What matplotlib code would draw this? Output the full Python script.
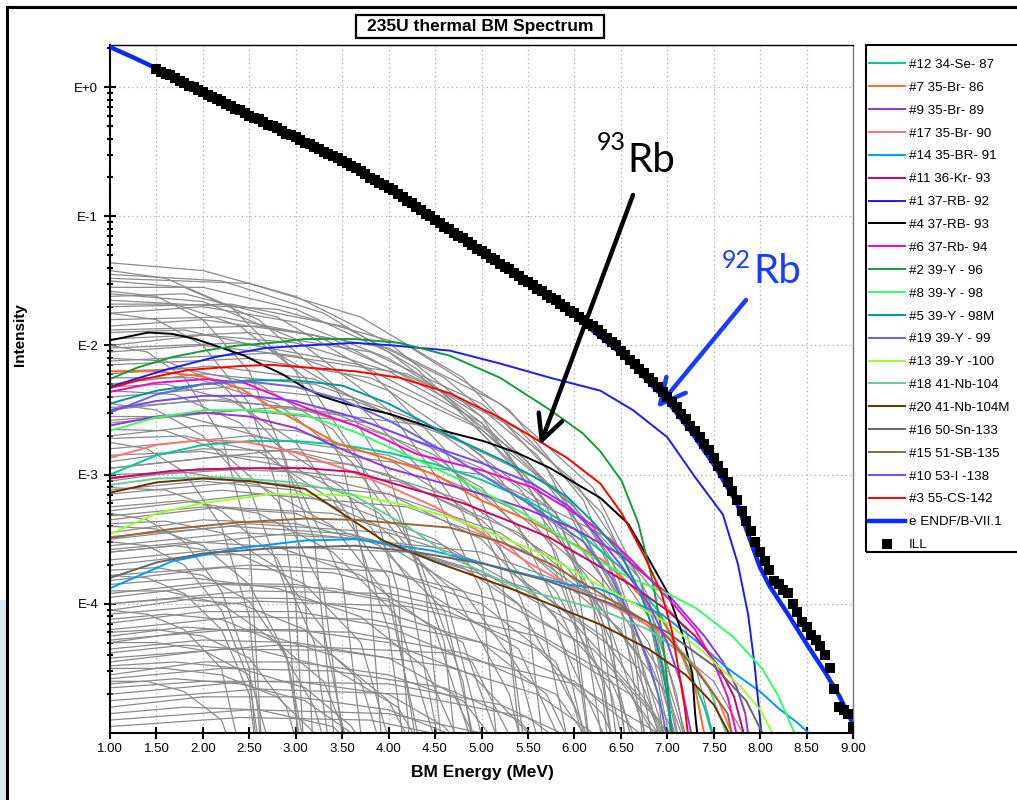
import numpy as np
import matplotlib
matplotlib.use("Agg")
import matplotlib.pyplot as plt
from matplotlib.patches import Rectangle
from matplotlib.lines import Line2D

plt.rcParams['font.family'] = ['Liberation Sans', 'DejaVu Sans']

W, H = 1017, 800

# ILL measured spectrum, log10(intensity) every 0.05 MeV from 1.50 to 9.00
ill_log = [0.14, 0.12, 0.10, 0.09, 0.07, 0.05, 0.03, 0.01, 0.00, -0.02, -0.04,
           -0.06, -0.08, -0.09, -0.11, -0.13, -0.15, -0.17, -0.18, -0.20, -0.22,
           -0.24, -0.25, -0.27, -0.29, -0.30, -0.32, -0.34, -0.36, -0.37, -0.39,
           -0.41, -0.43, -0.44, -0.46, -0.48, -0.50, -0.52, -0.53, -0.55, -0.57,
           -0.59, -0.61, -0.63, -0.65, -0.67, -0.70, -0.72, -0.74, -0.76, -0.78,
           -0.80, -0.83, -0.85, -0.88, -0.90, -0.93, -0.95, -0.98, -1.00, -1.03,
           -1.05, -1.08, -1.10, -1.13, -1.15, -1.17, -1.20, -1.22, -1.25, -1.27,
           -1.29, -1.32, -1.34, -1.37, -1.39, -1.41, -1.44, -1.46, -1.49, -1.51,
           -1.53, -1.56, -1.58, -1.61, -1.63, -1.65, -1.68, -1.70, -1.73, -1.75,
           -1.78, -1.80, -1.83, -1.85, -1.88, -1.91, -1.94, -1.97, -2.00, -2.04,
           -2.07, -2.11, -2.14, -2.18, -2.21, -2.25, -2.28, -2.32, -2.36, -2.40,
           -2.44, -2.48, -2.53, -2.57, -2.62, -2.66, -2.71, -2.76, -2.81, -2.87,
           -2.93, -2.99, -3.06, -3.13, -3.20, -3.28, -3.36, -3.44, -3.52, -3.60,
           -3.67, -3.74, -3.82, -3.85, -3.89, -3.92, -4.00, -4.06, -4.14, -4.18,
           -4.24, -4.28, -4.33, -4.40, -4.50, -4.66, -4.80, -4.82, -4.85, -4.95]
ill_x = np.round(np.arange(1.5, 9.001, 0.05), 2)

# ENDF/B-VII.1 summation
endf_x = [1.0, 1.25, 1.5, 2.0, 2.5, 3.0, 3.5, 4.0, 4.5, 5.0, 5.5, 6.0, 6.5, 7.0, 7.25,
          7.5, 7.75, 8.0, 8.1, 8.3, 8.5, 8.7, 8.85, 9.0]
endf_log = [0.31, 0.23, 0.145, -0.04, -0.22, -0.39, -0.57, -0.78, -1.03, -1.28, -1.52,
            -1.77, -2.06, -2.43, -2.66, -2.92, -3.22, -3.72, -3.86, -4.08, -4.31, -4.53,
            -4.71, -4.93]

# individual fission products (legend order): label, colour, energies, log10 intensity
labels = ['#12 34-Se- 87', '#7 35-Br- 86', '#9 35-Br- 89', '#17 35-Br- 90', '#14 35-BR- 91',
          '#11 36-Kr- 93', '#1 37-RB- 92', '#4 37-RB- 93', '#6 37-Rb- 94', '#2 39-Y - 96',
          '#8 39-Y - 98', '#5 39-Y - 98M', '#19 39-Y - 99', '#13 39-Y -100', '#18 41-Nb-104',
          '#20 41-Nb-104M', '#16 50-Sn-133', '#15 51-SB-135', '#10 53-I -138', '#3 55-CS-142']
colors = ['#00c896', '#ff6a28', '#9933cc', '#ff7373', '#0099ff',
          '#cc0066', '#1a1aff', '#000000', '#ff00cc', '#169b3c',
          '#33ff66', '#009999', '#6666dd', '#99ff33', '#66cc99',
          '#663300', '#666666', '#996633', '#7744ff', '#ff0000']
curve_x = [
    [1.0, 1.5, 2.0, 2.5, 3.0, 3.5, 4.0, 4.5, 5.0, 5.5, 6.0, 6.5, 6.9, 7.2, 7.4, 7.5],
    [1.0, 1.5, 2.0, 2.4, 2.7, 3.0, 3.45, 4.0, 4.5, 5.0, 5.5, 6.0, 6.3, 6.6, 6.95, 7.15, 7.3, 7.41],
    [1.0, 1.5, 2.0, 2.5, 3.0, 3.45, 4.0, 4.5, 5.0, 5.5, 6.0, 6.5, 7.0, 7.4, 7.6, 7.75, 7.84, 7.88],
    [1.0, 1.5, 2.0, 2.5, 3.0, 3.5, 4.0, 4.5, 5.0, 5.5, 6.0, 6.5, 7.0, 7.3, 7.55, 7.72],
    [1.0, 1.67, 2.38, 3.1, 3.64, 4.48, 5.2, 5.92, 6.25, 6.94, 7.3, 7.65, 8.0, 8.2, 8.4, 8.6],
    [1.0, 1.67, 2.38, 3.1, 3.64, 4.2, 4.8, 5.3, 5.74, 6.22, 6.6, 7.0, 7.3, 7.55, 7.72, 7.84],
    [1.0, 1.59, 2.13, 2.67, 3.10, 3.64, 4.05, 4.66, 5.20, 5.74, 6.28, 6.63, 7.00, 7.30, 7.60,
     7.76, 7.87, 7.94, 8.02],
    [1.0, 1.41, 1.67, 1.92, 2.21, 2.45, 2.67, 2.85, 3.10, 3.31, 3.53, 4.01, 4.48, 5.02, 5.38,
     5.74, 6.09, 6.28, 6.58, 6.79, 7.01, 7.16, 7.27, 7.30, 7.33],
    [1.0, 1.48, 2.02, 2.45, 2.92, 3.28, 3.64, 4.3, 5.02, 5.55, 5.92, 6.25, 6.6, 7.0, 7.3, 7.5,
     7.65, 7.76],
    [1.0, 1.30, 1.67, 2.02, 2.38, 2.74, 3.10, 3.64, 4.12, 4.66, 5.20, 5.74, 6.09, 6.28, 6.51,
     6.69, 6.84, 6.94, 7.00, 7.04],
    [1.0, 1.48, 2.02, 2.56, 3.1, 3.64, 4.2, 4.8, 5.4, 5.9, 6.22, 6.6, 7.0, 7.3, 7.7, 8.02, 8.2, 8.4],
    [1.0, 1.5, 2.0, 2.5, 3.0, 3.5, 4.0, 4.66, 5.2, 5.55, 5.92, 6.22, 6.5, 6.7, 6.85, 6.95, 7.02, 7.06],
    [1.0, 1.5, 2.0, 2.5, 3.0, 3.5, 4.0, 4.5, 5.0, 5.5, 6.1, 6.4, 6.63, 6.8, 6.92, 7.0],
    [1.0, 1.5, 2.0, 2.74, 3.64, 4.2, 4.66, 5.2, 5.74, 6.22, 6.6, 7.0, 7.4, 7.8, 8.0, 8.17],
    [1.0, 1.5, 2.2, 3.0, 3.6, 4.2, 4.7, 5.4, 6.3, 6.8, 7.2, 7.45, 7.66],
    [1.0, 1.5, 2.0, 2.5, 3.1, 3.5, 3.94, 4.48, 5.38, 6.28, 6.8, 7.2, 7.5, 7.7],
    [1.0, 1.5, 2.0, 2.74, 3.64, 4.3, 5.02, 5.7, 6.4, 7.0, 7.5, 7.85, 8.06],
    [1.0, 1.67, 2.38, 3.1, 3.64, 4.66, 5.2, 5.74, 6.28, 6.94, 7.3, 7.65, 7.71],
    [1.0, 1.5, 2.0, 2.5, 3.0, 3.6, 4.3, 5.0, 5.55, 5.95, 6.22, 6.5, 6.8, 7.0, 7.15, 7.27],
    [1.0, 1.30, 1.84, 2.38, 2.74, 3.10, 3.64, 4.12, 4.66, 5.20, 5.55, 5.92, 6.28, 6.51, 6.76,
     6.94, 7.05, 7.12, 7.19, 7.23],
]
curve_log = [
    [-3.00, -2.85, -2.77, -2.74, -2.74, -2.77, -2.83, -2.92, -3.04, -3.20, -3.42, -3.72, -4.05,
     -4.45, -4.80, -5.05],
    [-2.20, -2.20, -2.24, -2.33, -2.46, -2.58, -2.76, -2.88, -3.00, -3.20, -3.35, -3.54, -3.66,
     -3.85, -4.13, -4.39, -4.65, -5.05],
    [-2.62, -2.55, -2.52, -2.55, -2.64, -2.79, -2.95, -3.05, -3.15, -3.27, -3.42, -3.62, -3.92,
     -4.25, -4.45, -4.65, -4.85, -5.05],
    [-2.87, -2.77, -2.73, -2.75, -2.83, -2.95, -3.09, -3.25, -3.45, -3.68, -3.88, -4.05, -4.25,
     -4.48, -4.75, -5.05],
    [-3.88, -3.67, -3.57, -3.51, -3.50, -3.59, -3.72, -3.85, -3.88, -4.08, -4.28, -4.50, -4.68,
     -4.81, -4.92, -5.05],
    [-3.03, -2.97, -2.95, -2.95, -2.98, -3.10, -3.22, -3.36, -3.49, -3.69, -3.85, -4.05, -4.25,
     -4.48, -4.72, -5.05],
    [-2.32, -2.19, -2.09, -2.02, -2.00, -1.98, -2.00, -2.04, -2.14, -2.25, -2.35, -2.50, -2.71,
     -3.02, -3.31, -3.69, -4.08, -4.47, -5.05],
    [-1.96, -1.90, -1.91, -1.95, -2.02, -2.08, -2.16, -2.22, -2.33, -2.40, -2.45, -2.53, -2.64,
     -2.74, -2.83, -2.95, -3.10, -3.18, -3.38, -3.64, -3.92, -4.23, -4.54, -4.85, -5.05],
    [-2.36, -2.29, -2.26, -2.29, -2.43, -2.53, -2.62, -2.84, -2.97, -3.10, -3.26, -3.42, -3.65,
     -3.95, -4.20, -4.45, -4.72, -5.05],
    [-2.26, -2.17, -2.09, -2.04, -2.00, -1.98, -1.95, -1.95, -1.98, -2.08, -2.25, -2.50, -2.68,
     -2.82, -3.05, -3.38, -3.82, -4.21, -4.60, -5.05],
    [-2.66, -2.56, -2.50, -2.50, -2.54, -2.67, -2.85, -3.05, -3.28, -3.50, -3.65, -3.80, -3.92,
     -4.03, -4.25, -4.50, -4.72, -5.05],
    [-2.45, -2.35, -2.30, -2.27, -2.27, -2.31, -2.45, -2.70, -2.88, -3.01, -3.17, -3.38, -3.62,
     -3.90, -4.20, -4.50, -4.80, -5.05],
    [-2.52, -2.38, -2.30, -2.28, -2.32, -2.42, -2.58, -2.78, -3.00, -3.22, -3.52, -3.80, -4.15,
     -4.45, -4.75, -5.05],
    [-3.46, -3.30, -3.22, -3.15, -3.16, -3.24, -3.33, -3.48, -3.64, -3.84, -3.98, -4.15, -4.38,
     -4.65, -4.82, -5.05],
    [-3.08, -3.03, -3.02, -3.06, -3.15, -3.40, -3.65, -3.88, -4.05, -4.20, -4.40, -4.65, -5.05],
    [-3.14, -3.06, -3.03, -3.05, -3.11, -3.30, -3.51, -3.67, -3.90, -4.16, -4.35, -4.55, -4.78,
     -5.05],
    [-3.80, -3.68, -3.61, -3.57, -3.55, -3.60, -3.69, -3.82, -4.00, -4.22, -4.48, -4.75, -5.05],
    [-3.49, -3.42, -3.37, -3.34, -3.35, -3.41, -3.52, -3.69, -3.92, -4.21, -4.50, -4.85, -5.05],
    [-2.50, -2.43, -2.39, -2.39, -2.43, -2.55, -2.74, -2.91, -3.07, -3.25, -3.45, -3.70, -4.00,
     -4.30, -4.62, -5.05],
    [-2.33, -2.27, -2.19, -2.16, -2.15, -2.17, -2.20, -2.25, -2.37, -2.56, -2.71, -2.87, -3.07,
     -3.30, -3.64, -3.92, -4.21, -4.50, -4.81, -5.05],
]

# unlabelled background nuclides (grey), (energy, log10 intensity) pairs
gray_curves = [
    [(1.0, -1.36), (2.0, -1.42), (3.0, -1.62), (4.0, -1.98), (5.0, -2.55), (5.6, -3.2), (6.0, -4.1), (6.2, -5.3)],
    [(1.0, -1.45), (2.2, -1.50), (3.3, -1.75), (4.3, -2.18), (5.3, -2.85), (6.0, -3.7), (6.35, -5.3)],
    [(1.0, -1.55), (2.0, -1.55), (3.0, -1.72), (4.0, -2.05), (5.0, -2.6), (5.8, -3.3), (6.4, -4.3), (6.6, -5.3)],
    [(1.0, -1.62), (1.8, -1.60), (2.8, -1.78), (3.8, -2.2), (4.6, -2.8), (5.2, -3.7), (5.5, -5.3)],
    [(1.0, -1.50), (1.8, -1.55), (2.6, -1.80), (3.4, -2.3), (4.0, -3.0), (4.4, -3.9), (4.6, -5.3)],
    [(1.0, -1.70), (2.3, -1.68), (3.5, -1.85), (4.6, -2.25), (5.6, -2.85), (6.4, -3.65), (6.9, -4.7), (7.0, -5.3)],
    [(1.0, -1.75), (2.0, -1.70), (3.0, -1.82), (4.0, -2.1), (5.0, -2.55), (5.9, -3.2), (6.6, -4.1), (6.9, -5.3)],
    [(1.0, -1.42), (1.6, -1.48), (2.3, -1.70), (3.0, -2.2), (3.5, -2.9), (3.8, -3.9), (3.95, -5.3)],
    [(1.0, -1.85), (2.0, -1.80), (3.2, -1.92), (4.4, -2.3), (5.5, -2.9), (6.3, -3.6), (6.9, -4.6), (7.1, -5.3)],
    [(1.0, -1.95), (2.5, -1.90), (3.8, -2.05), (5.0, -2.45), (6.0, -3.05), (6.7, -3.8), (7.1, -4.7), (7.25, -5.3)],
    [(1.0, -1.60), (2.0, -1.66), (3.0, -1.95), (4.0, -2.5), (4.8, -3.3), (5.3, -4.3), (5.45, -5.3)],
    [(1.0, -1.80), (2.2, -1.78), (3.4, -1.95), (4.6, -2.4), (5.6, -3.1), (6.2, -4.0), (6.45, -5.3)],
    [(1.0, -1.68), (1.7, -1.68), (2.4, -1.85), (3.1, -2.25), (3.7, -2.9), (4.1, -3.9), (4.25, -5.3)],
    [(1.0, -2.00), (2.0, -1.92), (3.0, -1.98), (4.0, -2.2), (5.0, -2.6), (5.9, -3.2), (6.5, -4.0), (6.8, -5.3)],
    [(1.0, -1.90), (1.8, -1.88), (2.7, -2.02), (3.6, -2.4), (4.4, -3.0), (5.0, -3.9), (5.2, -5.3)],
    [(1.0, -1.58), (1.5, -1.62), (2.0, -1.80), (2.5, -2.2), (2.9, -2.9), (3.1, -3.9), (3.2, -5.3)],
    [(1.0, -2.05), (2.0, -2.00), (3.0, -2.08), (4.0, -2.35), (5.0, -2.85), (5.8, -3.6), (6.3, -4.6), (6.45, -5.3)],
    [(1.0, -2.15), (2.5, -2.10), (3.8, -2.25), (5.0, -2.65), (6.0, -3.25), (6.8, -4.1), (7.15, -5.3)],
    [(1.0, -2.20), (1.8, -2.18), (2.6, -2.30), (3.4, -2.65), (4.1, -3.3), (4.6, -4.3), (4.75, -5.3)],
    [(1.0, -2.30), (2.0, -2.22), (3.2, -2.30), (4.4, -2.6), (5.4, -3.1), (6.2, -3.85), (6.7, -5.3)],
    [(1.0, -2.40), (2.3, -2.32), (3.6, -2.42), (4.8, -2.75), (5.8, -3.3), (6.6, -4.1), (7.0, -5.3)],
    [(1.0, -2.10), (1.6, -2.12), (2.2, -2.30), (2.8, -2.75), (3.2, -3.5), (3.45, -5.3)],
    [(1.0, -2.50), (2.0, -2.42), (3.0, -2.48), (4.0, -2.7), (5.0, -3.1), (5.8, -3.75), (6.3, -4.7), (6.4, -5.3)],
    [(1.0, -2.60), (2.4, -2.50), (3.8, -2.6), (5.0, -2.95), (6.0, -3.5), (6.8, -4.3), (7.2, -5.3)],
    [(1.0, -2.25), (1.9, -2.25), (2.8, -2.45), (3.6, -2.9), (4.3, -3.6), (4.8, -4.6), (4.95, -5.3)],
    [(1.0, -2.70), (2.0, -2.62), (3.0, -2.66), (4.0, -2.88), (4.9, -3.3), (5.6, -3.95), (6.0, -5.3)],
    [(1.0, -2.80), (2.5, -2.70), (4.0, -2.85), (5.3, -3.25), (6.3, -3.85), (7.0, -4.6), (7.3, -5.3)],
    [(1.0, -2.35), (1.7, -2.38), (2.4, -2.6), (3.0, -3.05), (3.5, -3.8), (3.75, -5.3)],
    [(1.0, -2.90), (2.0, -2.80), (3.0, -2.82), (4.0, -3.0), (5.0, -3.35), (5.8, -3.9), (6.4, -4.7), (6.6, -5.3)],
    [(1.0, -2.55), (1.8, -2.55), (2.7, -2.72), (3.5, -3.1), (4.2, -3.8), (4.6, -5.3)],
    [(1.0, -2.95), (2.3, -2.85), (3.6, -2.92), (4.8, -3.2), (5.9, -3.7), (6.7, -4.4), (7.1, -5.3)],
    [(1.0, -2.45), (1.5, -2.50), (2.0, -2.7), (2.5, -3.1), (2.9, -3.9), (3.05, -5.3)],
    [(1.0, -3.05), (2.0, -2.95), (3.0, -2.98), (4.0, -3.15), (5.0, -3.5), (5.8, -4.1), (6.2, -5.3)],
    [(1.0, -3.15), (2.5, -3.05), (4.0, -3.15), (5.2, -3.45), (6.2, -3.95), (7.0, -4.7), (7.3, -5.3)],
    [(1.0, -3.25), (1.8, -3.2), (2.6, -3.3), (3.4, -3.6), (4.1, -4.1), (4.6, -5.3)],
    [(1.0, -3.35), (2.2, -3.25), (3.4, -3.3), (4.6, -3.55), (5.6, -3.95), (6.4, -4.6), (6.8, -5.3)],
    [(1.0, -3.45), (2.0, -3.35), (3.0, -3.38), (4.0, -3.55), (4.8, -3.9), (5.4, -4.5), (5.7, -5.3)],
    [(1.0, -3.55), (2.4, -3.45), (3.8, -3.5), (5.0, -3.75), (6.0, -4.15), (6.8, -4.8), (7.1, -5.3)],
    [(1.0, -3.60), (1.7, -3.55), (2.4, -3.62), (3.1, -3.85), (3.7, -4.3), (4.1, -5.3)],
    [(1.0, -3.70), (2.0, -3.62), (3.0, -3.62), (4.0, -3.75), (5.0, -4.0), (5.8, -4.45), (6.3, -5.3)],
    [(1.0, -3.78), (2.5, -3.70), (4.0, -3.75), (5.2, -3.98), (6.2, -4.35), (6.9, -4.9), (7.1, -5.3)],
    [(1.0, -3.85), (1.9, -3.80), (2.8, -3.88), (3.7, -4.1), (4.4, -4.5), (4.9, -5.3)],
    [(1.0, -3.95), (2.2, -3.85), (3.4, -3.88), (4.6, -4.05), (5.6, -4.35), (6.3, -4.85), (6.6, -5.3)],
    [(1.0, -4.05), (2.0, -3.95), (3.0, -3.96), (4.0, -4.08), (5.0, -4.3), (5.7, -4.7), (6.1, -5.3)],
    [(1.0, -4.12), (1.6, -4.08), (2.2, -4.12), (2.8, -4.3), (3.3, -4.6), (3.7, -5.3)],
    [(1.0, -4.20), (2.4, -4.10), (3.8, -4.12), (5.0, -4.3), (6.0, -4.6), (6.7, -5.0), (7.0, -5.3)],
    [(1.0, -4.30), (2.0, -4.2), (3.0, -4.2), (4.0, -4.3), (4.9, -4.55), (5.5, -5.0), (5.8, -5.3)],
    [(1.0, -4.38), (1.8, -4.32), (2.6, -4.36), (3.4, -4.5), (4.1, -4.8), (4.5, -5.3)],
    [(1.0, -4.45), (2.2, -4.35), (3.4, -4.36), (4.6, -4.48), (5.6, -4.7), (6.3, -5.05), (6.6, -5.3)],
    [(1.0, -4.55), (2.0, -4.45), (3.0, -4.45), (4.0, -4.55), (4.8, -4.75), (5.4, -5.3)],
    [(1.0, -4.62), (1.7, -4.58), (2.4, -4.62), (3.1, -4.75), (3.6, -5.0), (3.9, -5.3)],
    [(1.0, -4.70), (2.5, -4.6), (4.0, -4.62), (5.2, -4.78), (6.0, -5.05), (6.4, -5.3)],
    [(1.0, -4.80), (2.0, -4.72), (3.0, -4.72), (4.0, -4.82), (4.8, -5.05), (5.2, -5.3)],
    [(1.0, -4.90), (2.5, -4.82), (4.0, -4.85), (5.0, -5.0), (5.6, -5.3)],
    [(1.0, -3.10), (1.6, -3.12), (2.2, -3.28), (2.8, -3.65), (3.2, -4.3), (3.4, -5.3)],
    [(1.0, -3.40), (1.5, -3.42), (2.0, -3.55), (2.5, -3.85), (2.9, -4.4), (3.1, -5.3)],
    [(1.0, -3.90), (1.6, -3.9), (2.2, -4.0), (2.8, -4.3), (3.2, -4.8), (3.4, -5.3)],
    [(1.0, -2.65), (1.6, -2.66), (2.2, -2.82), (2.8, -3.2), (3.3, -3.9), (3.55, -5.3)],
    [(1.0, -2.85), (2.0, -2.82), (3.0, -2.95), (3.9, -3.3), (4.6, -3.9), (5.1, -5.3)],
    [(1.0, -3.20), (2.2, -3.12), (3.4, -3.2), (4.5, -3.5), (5.4, -4.0), (6.0, -4.8), (6.2, -5.3)],
    [(1.0, -3.50), (2.5, -3.38), (4.0, -3.45), (5.3, -3.75), (6.3, -4.25), (7.0, -5.0), (7.2, -5.3)],
    [(1.0, -4.00), (2.5, -3.9), (4.0, -3.92), (5.4, -4.15), (6.5, -4.6), (7.2, -5.3)],
    [(1.0, -4.25), (1.8, -4.18), (2.6, -4.22), (3.4, -4.4), (4.0, -4.75), (4.4, -5.3)],
    [(1.0, -4.50), (1.6, -4.5), (2.2, -4.55), (2.8, -4.72), (3.2, -5.0), (3.4, -5.3)],
    [(1.0, -1.75), (1.5, -1.80), (2.0, -2.0), (2.5, -2.45), (2.8, -3.1), (3.0, -4.0), (3.1, -5.3)],
    [(1.0, -2.00), (1.4, -2.05), (1.8, -2.25), (2.2, -2.7), (2.5, -3.5), (2.65, -5.3)],
    [(1.0, -2.75), (1.4, -2.8), (1.8, -2.98), (2.2, -3.4), (2.5, -4.1), (2.65, -5.3)],
    [(1.0, -3.30), (1.4, -3.35), (1.8, -3.52), (2.2, -3.9), (2.5, -4.5), (2.6, -5.3)],
    [(1.0, -1.48), (2.5, -1.52), (3.7, -1.78), (4.8, -2.25), (5.7, -2.95), (6.3, -3.8), (6.6, -5.3)],
    [(1.0, -2.12), (2.7, -2.06), (4.2, -2.22), (5.4, -2.65), (6.3, -3.3), (6.9, -4.2), (7.3, -5.3)],
    [(1.0, -3.60), (3.0, -3.45), (5.0, -3.6), (6.5, -4.0), (7.5, -4.6), (8.05, -5.3)],
    [(1.0, -2.95), (3.0, -2.8), (5.0, -3.0), (6.4, -3.5), (7.2, -4.2), (7.6, -5.3)],
    [(1.0, -3.00), (1.8, -2.98), (2.6, -3.08), (3.4, -3.4), (4.0, -3.95), (4.4, -5.3)],
    [(1.0, -3.12), (2.0, -3.05), (3.0, -3.12), (3.9, -3.4), (4.7, -3.9), (5.3, -4.7), (5.5, -5.3)],
    [(1.0, -3.28), (2.6, -3.15), (4.2, -3.25), (5.5, -3.6), (6.5, -4.2), (7.1, -5.3)],
    [(1.0, -3.38), (1.6, -3.36), (2.2, -3.45), (2.8, -3.72), (3.3, -4.2), (3.6, -5.3)],
    [(1.0, -3.48), (2.3, -3.4), (3.6, -3.46), (4.8, -3.72), (5.8, -4.2), (6.5, -5.3)],
    [(1.0, -3.58), (1.9, -3.52), (2.8, -3.56), (3.7, -3.78), (4.5, -4.2), (5.0, -5.3)],
    [(1.0, -3.66), (2.6, -3.55), (4.2, -3.6), (5.6, -3.9), (6.7, -4.5), (7.3, -5.3)],
    [(1.0, -3.74), (1.5, -3.72), (2.0, -3.78), (2.5, -3.98), (2.9, -4.4), (3.15, -5.3)],
    [(1.0, -3.82), (2.2, -3.72), (3.4, -3.76), (4.5, -3.95), (5.4, -4.35), (6.0, -5.3)],
    [(1.0, -3.92), (2.0, -3.84), (3.0, -3.85), (4.0, -3.98), (4.8, -4.3), (5.3, -5.3)],
    [(1.0, -4.00), (1.7, -3.96), (2.4, -4.0), (3.1, -4.2), (3.7, -4.6), (4.0, -5.3)],
    [(1.0, -4.08), (2.6, -3.98), (4.2, -4.02), (5.6, -4.25), (6.6, -4.7), (7.1, -5.3)],
    [(1.0, -4.15), (2.0, -4.06), (3.0, -4.06), (4.0, -4.18), (4.9, -4.45), (5.5, -5.3)],
    [(1.0, -4.22), (1.5, -4.2), (2.0, -4.25), (2.5, -4.42), (2.9, -4.8), (3.1, -5.3)],
    [(1.0, -4.28), (2.3, -4.2), (3.6, -4.22), (4.8, -4.38), (5.8, -4.7), (6.4, -5.3)],
    [(1.0, -4.35), (2.0, -4.28), (3.0, -4.3), (4.0, -4.42), (4.7, -4.7), (5.1, -5.3)],
    [(1.0, -4.42), (2.8, -4.32), (4.6, -4.38), (6.0, -4.62), (6.9, -5.0), (7.2, -5.3)],
    [(1.0, -4.48), (1.7, -4.45), (2.4, -4.5), (3.1, -4.65), (3.6, -4.95), (3.9, -5.3)],
    [(1.0, -4.58), (2.2, -4.5), (3.4, -4.52), (4.6, -4.65), (5.4, -4.9), (5.9, -5.3)],
    [(1.0, -4.65), (2.0, -4.6), (3.0, -4.6), (4.0, -4.7), (4.6, -4.95), (5.0, -5.3)],
    [(1.0, -4.75), (2.6, -4.66), (4.2, -4.7), (5.5, -4.88), (6.3, -5.3)],
    [(1.0, -4.85), (1.8, -4.8), (2.6, -4.82), (3.4, -4.95), (3.9, -5.3)],
    [(1.0, -4.95), (2.4, -4.88), (3.8, -4.9), (4.8, -5.05), (5.3, -5.3)],
    [(1.0, -3.52), (1.4, -3.55), (1.8, -3.7), (2.2, -4.05), (2.5, -4.6), (2.65, -5.3)],
    [(1.0, -4.05), (1.4, -4.08), (1.8, -4.2), (2.2, -4.5), (2.45, -5.3)],
    [(1.0, -4.60), (1.4, -4.6), (1.8, -4.68), (2.2, -4.9), (2.4, -5.3)],
    [(1.0, -2.58), (2.8, -2.48), (4.4, -2.62), (5.8, -3.1), (6.7, -3.8), (7.2, -5.3)],
    [(1.0, -2.32), (1.6, -2.3), (2.3, -2.42), (3.0, -2.75), (3.6, -3.35), (4.0, -4.2), (4.2, -5.3)],
    [(1.0, -2.02), (2.4, -1.98), (3.7, -2.15), (4.9, -2.6), (5.8, -3.3), (6.3, -4.2), (6.5, -5.3)],
    [(1.0, -1.65), (2.8, -1.72), (4.2, -2.0), (5.3, -2.5), (6.1, -3.2), (6.6, -4.1), (6.8, -5.3)],
    [(1.0, -1.88), (2.6, -1.85), (4.0, -2.02), (5.2, -2.45), (6.2, -3.1), (6.8, -3.95), (7.2, -5.3)],
    [(1.0, -2.72), (1.8, -2.7), (2.6, -2.82), (3.4, -3.2), (4.0, -3.8), (4.35, -5.3)],
    [(1.0, -3.02), (2.6, -2.95), (4.1, -3.05), (5.4, -3.45), (6.3, -4.0), (6.9, -5.3)],
    [(1.0, -3.32), (2.0, -3.25), (3.0, -3.3), (3.9, -3.55), (4.6, -4.05), (5.0, -5.3)],
    [(1.0, -2.22), (2.1, -2.16), (3.2, -2.26), (4.2, -2.6), (5.0, -3.2), (5.5, -4.1), (5.7, -5.3)],
    [(1.0, -2.48), (2.2, -2.42), (3.4, -2.52), (4.5, -2.85), (5.4, -3.4), (6.0, -4.3), (6.2, -5.3)],
    [(1.0, -3.78), (1.4, -3.8), (1.8, -3.92), (2.2, -4.2), (2.5, -4.7), (2.6, -5.3)],
    [(1.0, -4.30), (1.5, -4.3), (2.0, -4.36), (2.5, -4.55), (2.8, -5.3)],
]

x_ticks = [1.0, 1.5, 2.0, 2.5, 3.0, 3.5, 4.0, 4.5, 5.0, 5.5, 6.0, 6.5, 7.0, 7.5, 8.0, 8.5, 9.0]
y_ticks = [1e0, 1e-1, 1e-2, 1e-3, 1e-4]
y_ticklabels = ['E+0', 'E-1', 'E-2', 'E-3', 'E-4']


def fx(px):
    return px / W


def fy(py):
    return 1 - py / H


fig = plt.figure(figsize=(W / 100, H / 100), dpi=100)
ax = fig.add_axes([fx(110), fy(733), (853 - 110) / W, (733 - 45) / H])

for c in gray_curves:
    gx, gy = zip(*c)
    ax.plot(gx, 10 ** np.array(gy), color='#8a8a8a', lw=0.9, zorder=1)

lines = []
for lab, col, cx, cy in zip(labels, colors, curve_x, curve_log):
    ln, = ax.plot(cx, 10 ** np.array(cy), color=col, lw=1.4, zorder=2, label=lab)
    lines.append(ln)

ln_endf, = ax.plot(endf_x, 10 ** np.array(endf_log), color='#0a2aff', lw=3.2, zorder=3,
                   label='e ENDF/B-VII.1')
ln_ill, = ax.plot(ill_x, 10 ** np.array(ill_log), 's', color='black', ms=7.2, mew=0,
                  zorder=4, label='ILL')

ax.set_yscale('log')
ax.set_xlim(1.0, 9.0)
ax.set_ylim(1e-5, 10 ** 0.326)
ax.set_xticks(x_ticks)
ax.set_xticklabels(['%.2f' % v for v in x_ticks])
ax.set_yticks(y_ticks)
ax.set_yticklabels(y_ticklabels)
ax.yaxis.set_minor_locator(matplotlib.ticker.LogLocator(base=10, subs=np.arange(2, 10)))
ax.yaxis.set_minor_formatter(matplotlib.ticker.NullFormatter())
ax.tick_params(axis='both', which='major', direction='inout', length=9, width=1.5,
               labelsize=9.5, color='black')
ax.tick_params(axis='y', which='minor', direction='inout', length=4, width=1.5)
ax.tick_params(axis='x', pad=3)
ax.tick_params(axis='y', pad=4)
ax.grid(True, which='major', ls=(0, (1, 2.5)), color='#a8a8a8', lw=0.9)
ax.set_axisbelow(True)
for s in ['left', 'bottom']:
    ax.spines[s].set_linewidth(1.5)
for s in ['top', 'right']:
    ax.spines[s].set_linewidth(1.0)
ax.spines['right'].set_color('#777777')

# axis labels and title box
fig.text(fx(482), fy(773), 'BM Energy (MeV)', ha='center', va='center', fontsize=12.5,
         fontweight='bold')
fig.text(fx(20), fy(335), 'Intensity', ha='center', va='center', rotation=90, fontsize=11,
         fontweight='bold')
fig.add_artist(Rectangle((fx(356), fy(38)), 248 / W, 23 / H, transform=fig.transFigure,
                         fc='white', ec='black', lw=1.6))
fig.text(fx(480), fy(27), '235U thermal BM Spectrum', ha='center', va='center',
         fontsize=12.5, fontweight='bold')

# outer slide frame
fig.add_artist(Line2D([fx(7), fx(7)], [0, fy(7)], transform=fig.transFigure, color='black', lw=2.2))
fig.add_artist(Line2D([fx(7), 1], [fy(7), fy(7)], transform=fig.transFigure, color='black', lw=2.2))
fig.add_artist(Rectangle((0, 0), fx(6), 200 / H, transform=fig.transFigure, fc='#dce8f4',
                         ec='none'))

# legend
fig.add_artist(Rectangle((fx(866), fy(552)), 200 / W, (552 - 45) / H, transform=fig.transFigure,
                         fill=False, ec='black', lw=1.5))
leg = fig.legend(handles=lines + [ln_endf, ln_ill], loc='upper left',
                 bbox_to_anchor=(fx(866), fy(56)), frameon=False, fontsize=9.6,
                 handlelength=2.7, handletextpad=0.3, labelspacing=0.79, borderpad=0.2,
                 borderaxespad=0, numpoints=1)

# annotations
fig.text(fx(597), fy(150), '93', fontsize=18, family='Lato', ha='left', va='baseline')
fig.text(fx(627), fy(172), 'Rb', fontsize=29, family='Lato', ha='left', va='baseline')
fig.text(fx(722), fy(268), '92', fontsize=18, family='Lato', color='#1a3cff', ha='left',
         va='baseline')
fig.text(fx(753), fy(283), 'Rb', fontsize=29, family='Lato', color='#1a3cff', ha='left',
         va='baseline')
ax.annotate('', xy=(540, H - 445), xytext=(633, H - 195), xycoords='figure pixels',
            textcoords='figure pixels',
            arrowprops=dict(arrowstyle='->,head_length=0.9,head_width=0.45', color='black',
                            lw=3.2, mutation_scale=20, shrinkA=0, shrinkB=0))
ax.annotate('', xy=(657, H - 408), xytext=(746, H - 300), xycoords='figure pixels',
            textcoords='figure pixels',
            arrowprops=dict(arrowstyle='->,head_length=0.9,head_width=0.45', color='#1a3cff',
                            lw=3.2, mutation_scale=20, shrinkA=0, shrinkB=0))

fig.savefig('out.png', dpi=100)
